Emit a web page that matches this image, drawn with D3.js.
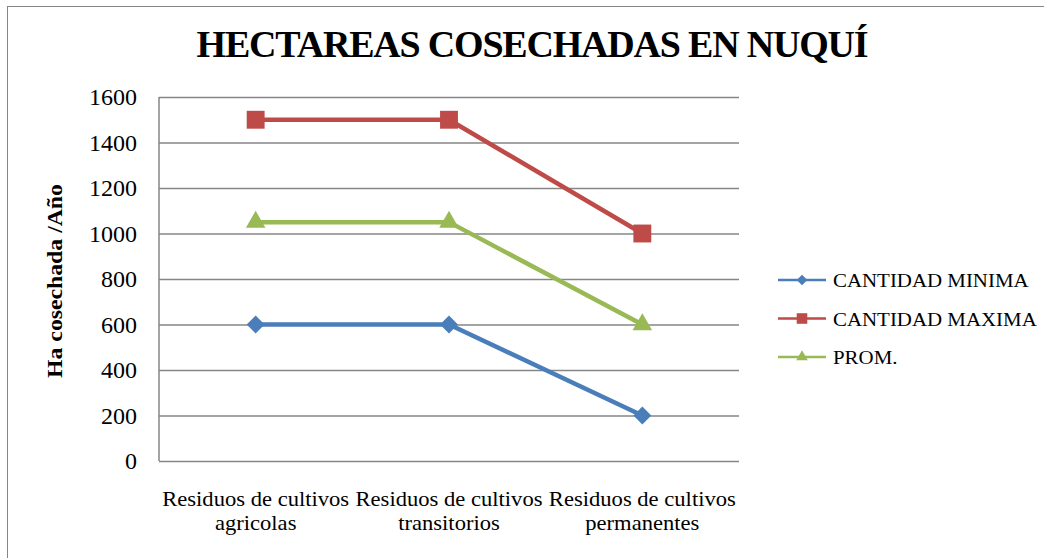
<!DOCTYPE html>
<html>
<head>
<meta charset="utf-8">
<script src="https://cdn.jsdelivr.net/npm/d3@7"></script>
<style>
  body { margin: 0; background: #fff; }
  svg text { font-family: "Times New Roman", "Liberation Serif", Times, "DejaVu Serif", serif !important; fill: #000; }
</style>
</head>
<body>
<svg id="chart" width="1044" height="558"></svg>
<script>
// datos
const categories = [
  ["Residuos de cultivos", "agricolas"],
  ["Residuos de cultivos", "transitorios"],
  ["Residuos de cultivos", "permanentes"]
];
const seriesNames = ["CANTIDAD MINIMA", "CANTIDAD MAXIMA", "PROM."];
const minValues = [600, 600, 200];
const maxValues = [1500, 1500, 1000];
const promValues = [1050, 1050, 600];
const yTicks = [0, 200, 400, 600, 800, 1000, 1200, 1400, 1600];

const width = 1044, height = 558;
const margin = { top: 97, left: 159, bottom: 97, right: 305 };

const series = [
  { name: seriesNames[0], values: minValues, color: "#4A7EBB", symbol: d3.symbolSquare, rot: 45, size: 160 },
  { name: seriesNames[1], values: maxValues, color: "#BE4B48", symbol: d3.symbolSquare, rot: 0, size: 320 },
  { name: seriesNames[2], values: promValues, color: "#98B954", symbol: d3.symbolTriangle, rot: 0, size: 165 }
];

const svg = d3.select("#chart");

// marco exterior
svg.append("rect")
  .attr("x", 7.5).attr("y", 6.5)
  .attr("width", 1100).attr("height", 600)
  .attr("fill", "none").attr("stroke", "#868686");

const x = d3.scaleBand()
  .domain(d3.range(categories.length))
  .range([margin.left, width - margin.right]);

const y = d3.scaleLinear()
  .domain([0, 1600])
  .range([height - margin.bottom, margin.top]);

// cuadricula + eje y
svg.append("g")
  .attr("transform", `translate(${margin.left},0)`)
  .call(d3.axisLeft(y).tickValues(yTicks).tickFormat(d3.format("d"))
    .tickSize(-(width - margin.right - margin.left)).tickPadding(22))
  .call(g => g.select(".domain").remove())
  .call(g => g.selectAll(".tick line").attr("stroke", "#868686").attr("stroke-width", 1.5))
  .call(g => g.selectAll(".tick text").attr("font-size", 24).attr("dy", "0.33em"));

// eje vertical izquierdo
svg.append("line")
  .attr("x1", margin.left).attr("x2", margin.left)
  .attr("y1", y(1600)).attr("y2", y(0))
  .attr("stroke", "#868686").attr("stroke-width", 1.5);

// etiquetas x
const xl = svg.append("g");
categories.forEach((lines, i) => {
  const t = xl.append("text")
    .attr("transform", `translate(${x(i) + x.bandwidth() / 2},506) scale(1.13,1)`)
    .attr("text-anchor", "middle")
    .attr("font-size", 20);
  lines.forEach((l, j) => {
    t.append("tspan").attr("x", 0).attr("dy", j === 0 ? 0 : 24).text(l);
  });
});

// titulo
svg.append("text")
  .attr("x", 532).attr("y", 57)
  .attr("text-anchor", "middle")
  .attr("font-size", 38).attr("font-weight", "bold")
  .attr("letter-spacing", -1.2)
  .text("HECTAREAS COSECHADAS EN NUQUÍ");

// titulo eje y
svg.append("text")
  .attr("transform", `translate(62,281) rotate(-90) scale(1.08,1)`)
  .attr("text-anchor", "middle")
  .attr("font-size", 22).attr("font-weight", "bold")
  .text("Ha cosechada /Año");

// lineas
const line = d3.line()
  .x((d, i) => x(i) + x.bandwidth() / 2)
  .y(d => y(d));

series.forEach(s => {
  svg.append("path")
    .datum(s.values)
    .attr("fill", "none")
    .attr("stroke", s.color)
    .attr("stroke-width", 4.5)
    .attr("stroke-linejoin", "round")
    .attr("d", line);

  svg.append("g")
    .selectAll("path")
    .data(s.values)
    .enter()
    .append("path")
    .attr("transform", (d, i) => `translate(${x(i) + x.bandwidth() / 2},${y(d)}) rotate(${s.rot})`)
    .attr("d", d3.symbol().type(s.symbol).size(s.size))
    .attr("fill", s.color);
});

// leyenda
const legend = svg.append("g");
series.forEach((s, i) => {
  const ly = 280 + i * 38.5;
  legend.append("line")
    .attr("x1", 778).attr("x2", 826)
    .attr("y1", ly).attr("y2", ly)
    .attr("stroke", s.color).attr("stroke-width", 2.5);
  legend.append("path")
    .attr("transform", `translate(802,${ly}) rotate(${s.rot})`)
    .attr("d", d3.symbol().type(s.symbol).size(s.size * 0.35))
    .attr("fill", s.color);
  legend.append("text")
    .attr("transform", `translate(833,${ly + 7}) scale(1.1,1)`)
    .attr("font-size", 19)
    .text(s.name);
});
</script>
</body>
</html>
